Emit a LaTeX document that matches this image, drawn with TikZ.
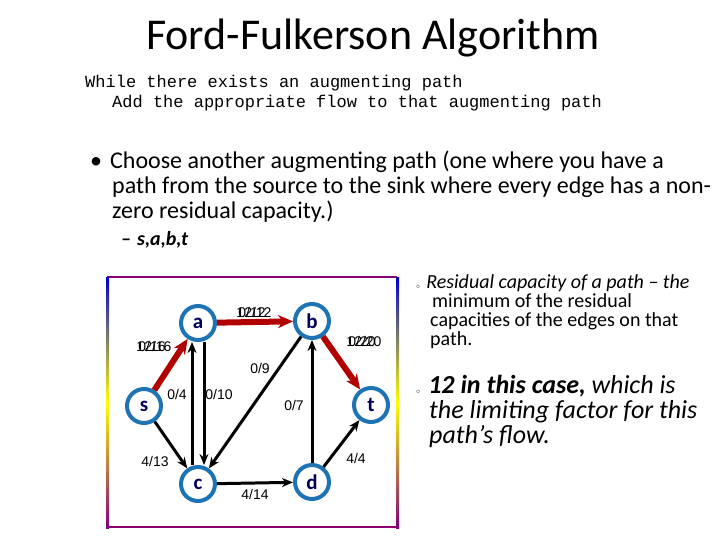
\documentclass[tikz,border=0pt]{standalone}
\usepackage{fontspec}
\setmainfont{Carlito}
\newfontfamily\arialf{Liberation Sans}
\newfontfamily\monof{Liberation Mono}
\usetikzlibrary{arrows.meta}
\definecolor{nodeblue}{RGB}{30,115,180}
\begin{document}
\begin{tikzpicture}[x=1pt,y=-1pt,
  vert/.style={circle,draw=nodeblue,fill=white,line width=4pt,minimum size=34pt,inner sep=0pt,font=\fontsize{21}{21}\selectfont\bfseries,text=blue!35!black},
  edg/.style={-{Stealth[length=11pt,width=9pt]},line width=3pt},
  red/.style={-{Stealth[length=15pt,width=13pt]},line width=6pt,draw=red!70!black},
  lab/.style={font=\arialf\fontsize{14}{14}\selectfont,inner sep=1pt}]
\useasboundingbox (0,0) rectangle (720,540);
\node[font=\fontsize{44}{44}\selectfont] (title) at (373,38) {Ford-Fulkerson Algorithm};
\node[anchor=west,font=\monof\fontsize{17}{17}\selectfont,inner sep=0] (c1) at (85,83) {While there exists an augmenting path};
\node[anchor=west,font=\monof\fontsize{17}{17}\selectfont,inner sep=0] (c2) at (112,103) {Add the appropriate flow to that augmenting path};
\node[anchor=west,font=\fontsize{24}{24}\selectfont,inner sep=0] (b1) at (90,162) {•\hspace{8pt}Choose another augmenting path (one where you have a};
\node[anchor=west,font=\fontsize{24}{24}\selectfont,inner sep=0] (b2) at (112,187) {path from the source to the sink where every edge has a non-};
\node[anchor=west,font=\fontsize{24}{24}\selectfont,inner sep=0] (b3) at (112,212) {zero residual capacity.)};
\node[anchor=west,font=\fontsize{20}{20}\selectfont\bfseries\itshape,inner sep=0] (b4) at (121,240) {–\hspace{6pt}s,a,b,t};
% box
\draw[line width=2.2pt,draw=violet!80!purple] (107,277) -- (397,277);
\draw[line width=2.2pt,draw=violet!80!purple] (107,527) -- (397,527);
\shade[top color=blue!80!black,bottom color=violet,middle color=yellow] (106,277) rectangle (109,528);
\shade[top color=blue!80!black,bottom color=violet,middle color=yellow] (396,277) rectangle (399,528);
% nodes
\node[vert] (a) at (198,323) {a};
\node[vert] (b) at (312,321) {b};
\node[vert] (s) at (144,406) {s};
\node[vert] (t) at (371,405) {t};
\node[vert] (c) at (198,484) {c};
\node[vert] (d) at (312,482) {d};
\draw[red] (s) -- (a);
\draw[red] (a) -- (b);
\draw[red] (b) -- (t);
\draw[edg] ([xshift=-6pt]c.north) -- ([xshift=-6pt]a.south);
\draw[edg] ([xshift=6pt]a.south) -- ([xshift=6pt]c.north);
\draw[edg] (b) -- (c);
\draw[edg] (d) -- (b);
\draw[edg] (s) -- (c);
\draw[edg] (c) -- (d);
\draw[edg] (d) -- (t);
% labels
\node[lab] (l1) at (152,346) {0/16};
\node[lab] (l1b) at (154,346) {12/16};
\node[lab] (l2) at (252,312) {0/12};
\node[lab] (l2b) at (254,312) {12/12};
\node[lab] (l3) at (362,341) {0/20};
\node[lab] (l3b) at (364,341) {12/20};
\node[lab] (l4) at (177,394) {0/4};
\node[lab] (l5) at (219,394) {0/10};
\node[lab] (l6) at (260,368) {0/9};
\node[lab] (l7) at (294,405) {0/7};
\node[lab] (l8) at (155,461) {4/13};
\node[lab] (l9) at (255,494) {4/14};
\node[lab] (l10) at (356,458) {4/4};
% right column
\node[anchor=west,font=\fontsize{20}{20}\selectfont\itshape,inner sep=0] (r0) at (416,283)
 {{\upshape\scriptsize$\circ$}\hspace{6pt}\textit{Residual capacity of a path} – the};
\node[anchor=north west,align=left,font=\fontsize{20}{19}\selectfont,inner sep=0] (r1) at (430,293)
 {\hspace*{2pt}minimum of the residual\\capacities of the edges on that\\path.};
\node[anchor=north west,align=left,font=\fontsize{26}{25}\selectfont\itshape,inner sep=0] (r2) at (416,375)
 {{\upshape\scriptsize$\circ$}\hspace{8pt}\textbf{12 in this case,} which is\\\hspace*{13pt}the limiting factor for this\\\hspace*{13pt}path’s flow.};
\end{tikzpicture}
\end{document}
